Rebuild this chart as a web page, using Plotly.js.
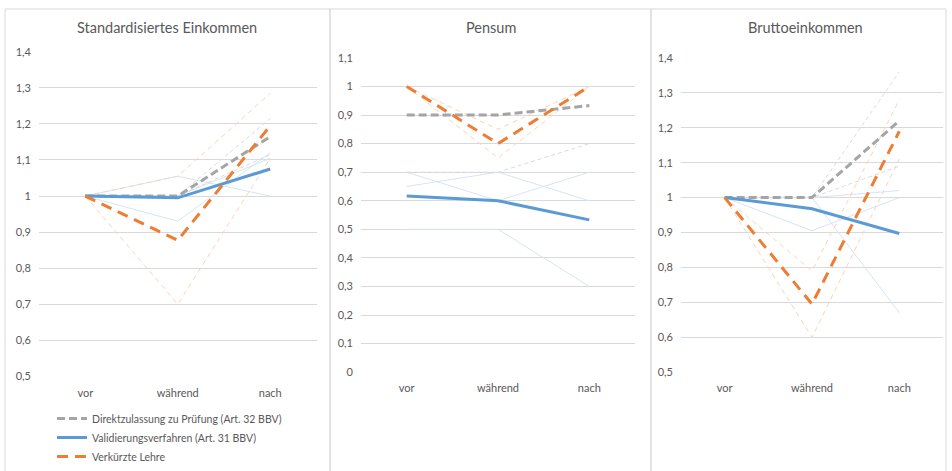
<!DOCTYPE html>
<html><head><meta charset="utf-8">
<script src="https://cdn.plot.ly/plotly-3.0.1.min.js"></script>
<style>html,body{margin:0;padding:0;background:#fff}#chart{width:952px;height:471px}</style>
</head><body><div id="chart"></div>
<script>
// ---- data ----
const categories = ['vor', 'während', 'nach'];
const seriesNames = ['Direktzulassung zu Prüfung (Art. 32 BBV)', 'Validierungsverfahren (Art. 31 BBV)', 'Verkürzte Lehre'];
const panelTitles = ['Standardisiertes Einkommen', 'Pensum', 'Bruttoeinkommen'];

// Standardisiertes Einkommen
const einkDirekt = [1, 1, 1.165];
const einkValid = [1, 0.995, 1.075];
const einkVerk = [1, 0.877, 1.195];
const einkDirektFaint = [[1, 1, 1.215], [1, 1, 1.115]];
const einkValidFaint = [[1, 1.055, 1.0], [1, 0.93, 1.12], [1, 1.0, 1.105]];
const einkVerkFaint = [[1, 1.055, 1.285], [1, 0.7, 1.105]];

// Pensum
const pensDirekt = [0.9, 0.9, 0.933];
const pensValid = [0.617, 0.6, 0.533];
const pensVerk = [1, 0.8, 1];
const pensDirektFaint = [[1, 1, 1], [1, 1, 1], [0.7, 0.7, 0.8]];
const pensValidFaint = [[0.65, 0.7, 0.6], [0.7, 0.6, 0.7], [0.5, 0.5, 0.3]];
const pensVerkFaint = [[1, 0.85, 1], [1, 0.75, 1]];

// Bruttoeinkommen
const bruttoDirekt = [1, 1, 1.22];
const bruttoValid = [1, 0.968, 0.897];
const bruttoVerk = [1, 0.695, 1.19];
const bruttoDirektFaint = [[1, 1, 1.36], [1, 1, 1.09]];
const bruttoValidFaint = [[1, 1, 1.02], [1, 1, 0.67], [1, 0.905, 1.0]];
const bruttoVerkFaint = [[1, 0.79, 1.28], [1, 0.6, 1.11]];

// tick labels
const einkTickVals = [0.5, 0.6, 0.7, 0.8, 0.9, 1, 1.1, 1.2, 1.3, 1.4];
const einkTickText = ['0,5', '0,6', '0,7', '0,8', '0,9', '1', '1,1', '1,2', '1,3', '1,4'];
const pensTickVals = [0, 0.1, 0.2, 0.3, 0.4, 0.5, 0.6, 0.7, 0.8, 0.9, 1, 1.1];
const pensTickText = ['0', '0,1', '0,2', '0,3', '0,4', '0,5', '0,6', '0,7', '0,8', '0,9', '1', '1,1'];

// ---- styling ----
const W = 952, H = 471;
const FONT = 'Lato, "Open Sans", sans-serif';
const TXT = '#595959';
const GREY = '#A5A5A5', BLUE = '#5B9BD5', ORANGE = '#ED7D31';
const GREY_F = '#DADADA', BLUE_F = '#D6E4F3', ORANGE_F = '#F9D3BA';

const panels = [
  { d: einkDirekt, v: einkValid, k: einkVerk, df: einkDirektFaint, vf: einkValidFaint, kf: einkVerkFaint,
    x: [39, 316.5], y: [377, 52], range: [0.5, 1.4], tv: einkTickVals, tt: einkTickText, xs: 9 },
  { d: pensDirekt, v: pensValid, k: pensVerk, df: pensDirektFaint, vf: pensValidFaint, kf: pensVerkFaint,
    x: [361, 635], y: [373, 58], range: [0, 1.1], tv: pensTickVals, tt: pensTickText, xs: 8 },
  { d: bruttoDirekt, v: bruttoValid, k: bruttoVerk, df: bruttoDirektFaint, vf: bruttoValidFaint, kf: bruttoVerkFaint,
    x: [681, 943], y: [373, 58], range: [0.5, 1.4], tv: einkTickVals, tt: einkTickText, xs: 8 }
];
const boxes = [[5, 330], [330, 651], [651, 946]];
const titleX = [167, 491, 805];

const traces = [];
const layout = {
  width: W, height: H, margin: { l: 0, r: 0, t: 0, b: 0 },
  paper_bgcolor: '#fff', plot_bgcolor: 'rgba(0,0,0,0)',
  font: { family: FONT, color: TXT, size: 11 },
  showlegend: true,
  legend: { x: 52 / W, y: 1 - 405 / H, xanchor: 'left', yanchor: 'top', bgcolor: 'rgba(0,0,0,0)',
            font: { family: FONT, size: 10.5, color: TXT }, tracegroupgap: 0, itemwidth: 30 },
  shapes: [], annotations: []
};

panels.forEach((p, i) => {
  const n = i === 0 ? '' : String(i + 1);
  const xa = 'x' + n, ya = 'y' + n;
  const faint = (arr, color, dash) => arr.forEach(vals => traces.push({
    x: categories, y: vals, xaxis: xa, yaxis: ya, type: 'scatter', mode: 'lines', showlegend: false,
    hoverinfo: 'skip', line: { color: color, width: 1, dash: dash }
  }));
  faint(p.vf, BLUE_F, 'solid');
  faint(p.df, GREY_F, '4px,3px');
  faint(p.kf, ORANGE_F, '5px,4px');
  const main = (vals, name, color, dash) => traces.push({
    x: categories, y: vals, xaxis: xa, yaxis: ya, type: 'scatter', mode: 'lines', name: name,
    showlegend: i === 0, line: { color: color, width: 3, dash: dash }
  });
  main(p.d, seriesNames[0], GREY, '8px,4px');
  main(p.v, seriesNames[1], BLUE, 'solid');
  main(p.k, seriesNames[2], ORANGE, '11px,7px');

  layout['xaxis' + n] = {
    domain: [p.x[0] / W, p.x[1] / W], anchor: ya, type: 'category', categoryorder: 'array',
    categoryarray: categories, range: [-0.5, 2.5], showgrid: false, zeroline: false, showline: false,
    ticks: '', tickfont: { size: 11, color: TXT }, ticklabelstandoff: p.xs, fixedrange: true
  };
  layout['yaxis' + n] = {
    domain: [1 - p.y[0] / H, 1 - p.y[1] / H], anchor: xa, range: p.range, tickvals: p.tv, ticktext: p.tt,
    showgrid: true, gridcolor: '#D9D9D9', gridwidth: 1, zeroline: false, showline: false, ticks: '',
    tickfont: { size: 11, color: TXT }, ticklabelstandoff: 7, fixedrange: true
  };
  layout.shapes.push({ type: 'rect', xref: 'paper', yref: 'paper', x0: boxes[i][0] / W, x1: boxes[i][1] / W,
    y0: 1 - 478 / H, y1: 1 - 9 / H, line: { color: '#D9D9D9', width: 1 }, fillcolor: 'rgba(0,0,0,0)', layer: 'below' });
  layout.annotations.push({ text: panelTitles[i], xref: 'paper', yref: 'paper', x: titleX[i] / W, y: 1 - 28 / H,
    xanchor: 'center', yanchor: 'middle', showarrow: false, font: { family: FONT, size: 14.5, color: TXT } });
});

Plotly.newPlot('chart', traces, layout, { staticPlot: true, displayModeBar: false });
</script></body></html>
